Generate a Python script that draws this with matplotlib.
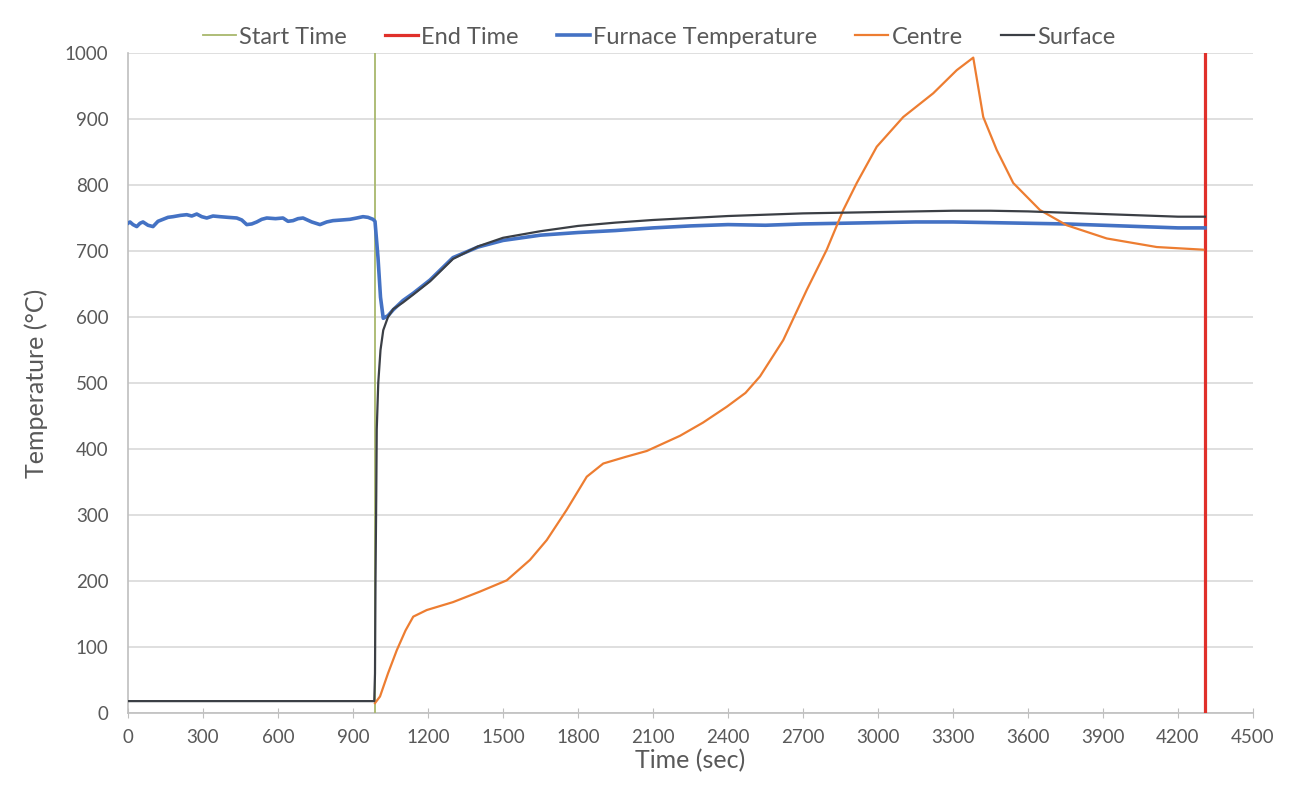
import matplotlib
matplotlib.use("Agg")
import matplotlib.pyplot as plt

plt.rcParams['font.family'] = ['Lato', 'DejaVu Sans']

# ---- data ----
start_time = 988
end_time = 4308
vline_y = [0, 1000]

furn_t = [0, 8, 20, 35, 48, 60, 80, 100, 120, 140, 160, 180, 210, 235, 255, 275, 295, 315,
          340, 368, 400, 435, 455, 475, 495, 515, 535, 555, 590, 620, 640, 660, 680,
          700, 735, 768, 795, 820, 855, 888, 915, 940, 960, 980, 988, 1000, 1010, 1021,
          1040, 1061, 1100, 1141, 1208, 1300, 1400, 1500, 1650, 1800, 1950, 2100, 2250,
          2400, 2550, 2700, 2850, 3000, 3150, 3300, 3450, 3600, 3750, 3900, 4050, 4200, 4308]
furn_v = [742, 744, 740, 737, 742, 744, 739, 737, 745, 748, 751, 752, 754, 755, 753, 756, 752,
          750, 753, 752, 751, 750, 747, 740, 741, 744, 748, 750, 749, 750, 745, 746, 749,
          750, 744, 740, 744, 746, 747, 748, 750, 752, 751, 748, 745, 690, 630, 598,
          602, 611, 625, 636, 656, 690, 706, 716, 724, 728, 731, 735, 738,
          740, 739, 741, 742, 743, 744, 744, 743, 742, 741, 739, 737, 735, 735]

surf_t = [0, 985, 988, 990, 993, 995, 1001, 1010, 1021, 1040, 1061, 1100, 1141, 1208, 1300,
          1400, 1500, 1650, 1800, 1950, 2100, 2250, 2400, 2550, 2700, 2850, 3000, 3150,
          3300, 3450, 3600, 3750, 3900, 4050, 4200, 4308]
surf_v = [18, 18, 60, 200, 330, 430, 500, 550, 580, 600, 612, 622, 634, 654, 688,
          707, 720, 730, 738, 743, 747, 750, 753, 755, 757, 758, 759, 760,
          761, 761, 760, 758, 756, 754, 752, 752]

cent_t = [988, 1008, 1040, 1075, 1110, 1141, 1195, 1300, 1408, 1515, 1608, 1675, 1755, 1835,
          1901, 1990, 2075, 2208, 2300, 2395, 2470, 2528, 2621, 2715, 2795, 2861, 2915,
          2995, 3101, 3221, 3315, 3381, 3421, 3475, 3541, 3648, 3755, 3915, 4115, 4301]
cent_v = [15, 25, 60, 95, 125, 146, 156, 168, 184, 201, 232, 262, 308, 358,
          378, 388, 397, 420, 440, 464, 485, 510, 565, 641, 702, 762, 803,
          858, 903, 939, 974, 993, 903, 853, 803, 762, 739, 719, 706, 702]

x_ticks = list(range(0, 4501, 300))
y_ticks = list(range(0, 1001, 100))

# ---- figure ----
fig = plt.figure(figsize=(13.1, 7.87), dpi=100)
ax = fig.add_axes([128/1310, 1-713/787, (1253-128)/1310, (713-53)/787])

ax.plot([start_time, start_time], vline_y, color='#A8B86C', lw=1.3, label='Start Time', zorder=3)
ax.plot([end_time, end_time], vline_y, color='#E0302A', lw=2.3, label='End Time', zorder=3)
ax.plot(furn_t, furn_v, color='#4472C4', lw=2.6, label='Furnace Temperature', zorder=4)
ax.plot(cent_t, cent_v, color='#ED7D31', lw=1.6, label='Centre', zorder=5)
ax.plot(surf_t, surf_v, color='#3B3F45', lw=1.6, label='Surface', zorder=5)

ax.set_xlim(0, 4500)
ax.set_ylim(0, 1000)
ax.set_xticks(x_ticks)
ax.set_yticks(y_ticks)
ax.grid(axis='y', color='#D9D9D9', lw=1.2)
ax.set_axisbelow(True)
for s in ['top', 'right']:
    ax.spines[s].set_visible(False)
for s in ['left', 'bottom']:
    ax.spines[s].set_color('#BFBFBF')
    ax.spines[s].set_linewidth(1.2)
ax.tick_params(axis='x', direction='inout', length=7, color='#BFBFBF', labelsize=13.5,
               labelcolor='#595959', pad=8)
ax.tick_params(axis='y', length=0, labelsize=13.5, labelcolor='#595959', pad=14)

ax.set_xlabel('Time (sec)', fontsize=18, color='#595959', labelpad=2)
ax.set_ylabel('Temperature (°C)', fontsize=18, color='#595959', labelpad=12)

leg = fig.legend(loc='center', bbox_to_anchor=(0.503, 1-37/787), ncol=5, frameon=False,
                 fontsize=17, handlelength=1.4, columnspacing=1.6, handletextpad=0.15,
                 labelcolor='#595959')

fig.savefig('out.png', dpi=100)
